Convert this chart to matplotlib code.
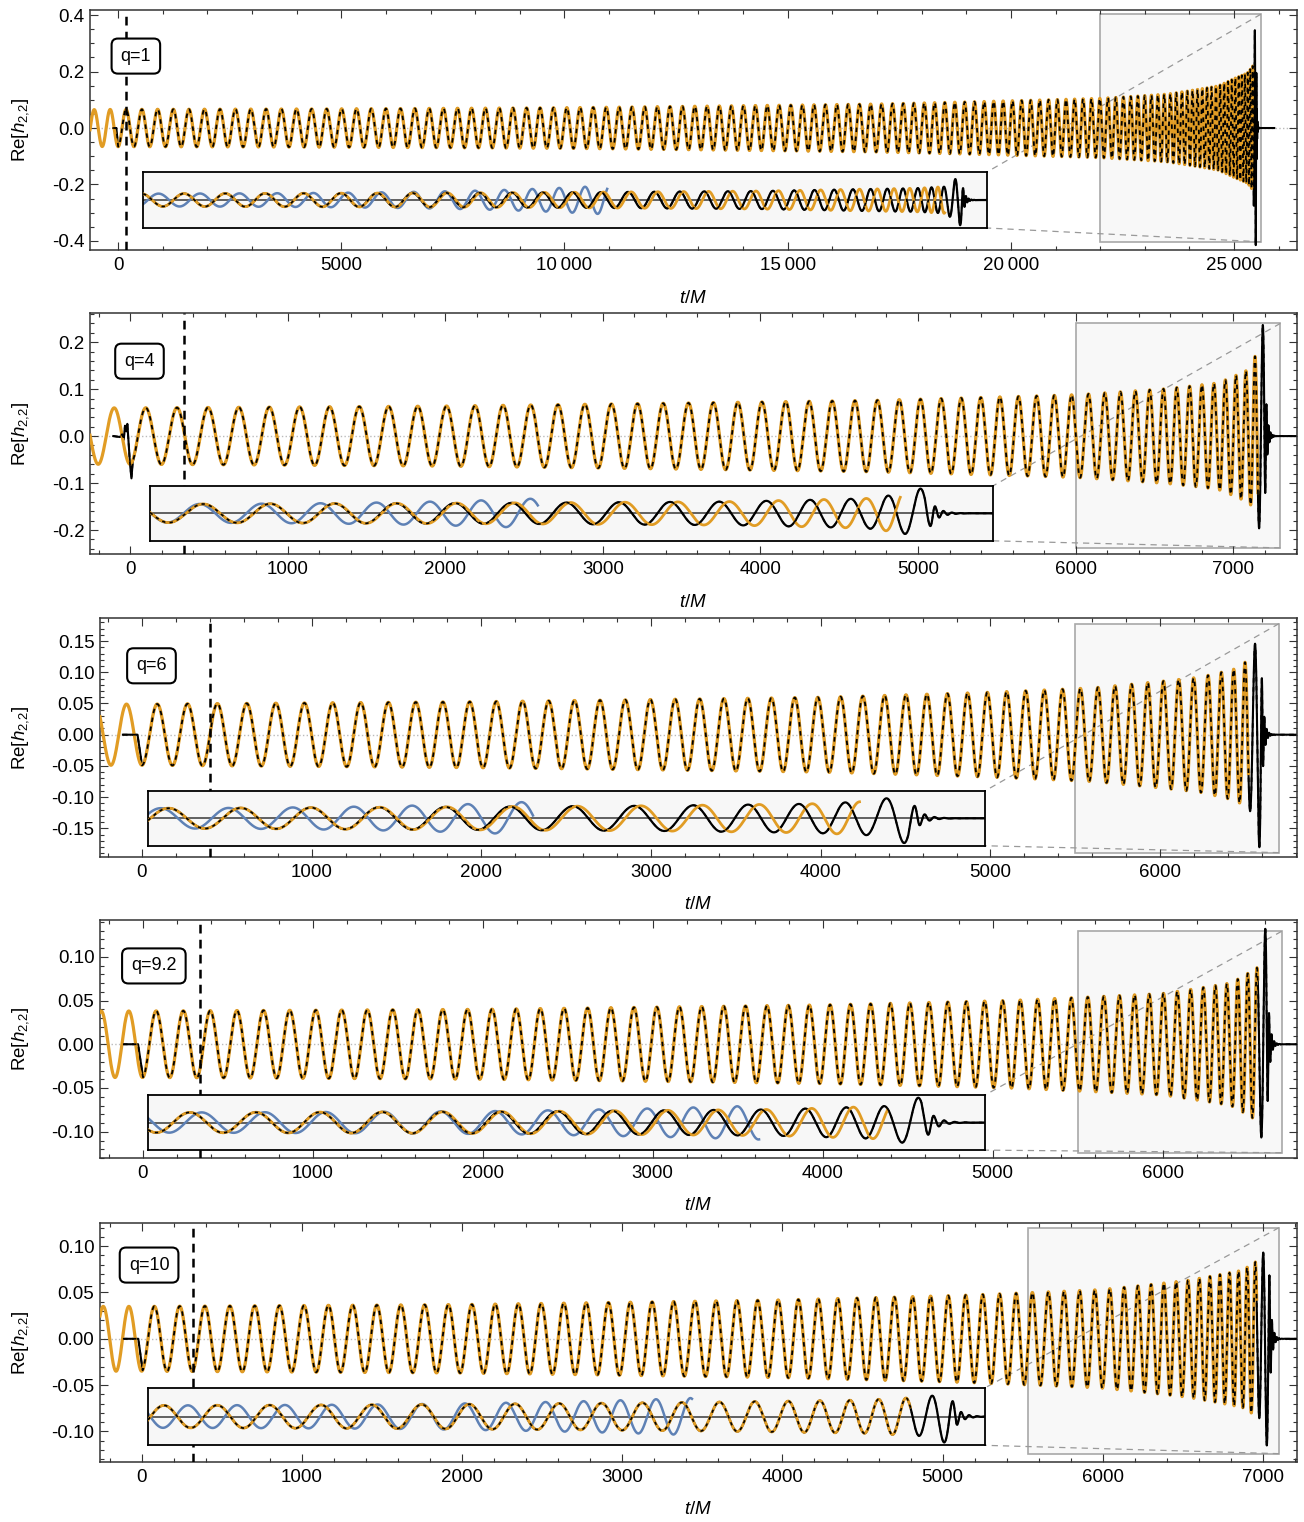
import numpy as np
import matplotlib.pyplot as plt
from matplotlib.patches import Rectangle
from matplotlib.ticker import MultipleLocator, FuncFormatter, FormatStrFormatter

plt.rcParams['font.family'] = ['Liberation Sans', 'DejaVu Sans']
plt.rcParams['mathtext.fontset'] = 'custom'
plt.rcParams['mathtext.rm'] = 'Liberation Sans'
plt.rcParams['mathtext.it'] = 'Liberation Sans:italic'

ORANGE = '#e19c24'
BLUE = '#5e81b5'
W, H = 1304, 1522

labels = ['q=1', 'q=4', 'q=6', 'q=9.2', 'q=10']
label_pos = [(0.038, 0.808), (0.041, 0.80), (0.043, 0.80), (0.045, 0.807), (0.041, 0.824)]

# axes frame in pixels: left, right, top, bottom
ax_px = [(90, 1297, 10, 250), (90, 1297, 313, 554), (100, 1297, 618, 857),
         (100, 1297, 920, 1158), (100, 1297, 1223, 1462)]
xlims = [(-630, 26410), (-254, 7405), (-247, 6806), (-250, 6791), (-260, 7212)]
ylims = [(-0.432, 0.418), (-0.251, 0.262), (-0.196, 0.187), (-0.130, 0.142), (-0.133, 0.125)]
x_major = [5000, 1000, 1000, 1000, 1000]
x_minor = [1000, 200, 200, 200, 200]
y_major = [0.2, 0.1, 0.05, 0.05, 0.05]
y_minor = [0.05, 0.02, 0.01, 0.01, 0.01]
y_fmt = ['%.1f', '%.1f', '%.2f', '%.2f', '%.2f']
t_vline = [180, 343, 400, 338, 320]

# GW period (t/M) read at several times along each waveform
period_t = [
    [-650, 0, 4800, 10000, 16800, 22000, 23500, 24630, 25000, 25300, 25450, 25490],
    [-260, 0, 1000, 2000, 3000, 4000, 4700, 5500, 6080, 6580, 6900, 7106, 7195],
    [-250, 0, 1000, 3000, 4000, 5000, 5600, 6230, 6450, 6560, 6590],
    [-260, 0, 1000, 2000, 3000, 4000, 5000, 5600, 6100, 6400, 6560, 6609],
    [-270, 0, 1000, 2000, 3000, 4000, 5127, 5982, 6526, 6870, 6995, 7032],
]
period_v = [
    [358, 356, 336, 298, 250, 185, 138, 95, 80, 62, 48, 38],
    [205, 200, 192, 182, 168, 152, 142, 120, 106, 85, 74, 59, 45],
    [185, 181, 167, 147, 135, 115, 103, 86, 69, 55, 45],
    [163, 161, 153, 144, 134, 122, 106, 95, 80, 65, 52, 44],
    [161, 159, 153, 147, 137, 127, 108, 94, 73, 54, 48, 42],
]
# amplitude of Re[h22] read at several times (last node = NR peak)
amp_t = [
    [-650, 0, 5000, 10000, 17000, 22000, 23500, 24640, 25000, 25300, 25420, 25460, 25490],
    [-260, 0, 2000, 4700, 6000, 6580, 6900, 7106, 7160, 7195],
    [-250, 0, 2000, 4000, 5000, 5600, 6230, 6450, 6540, 6590],
    [-260, 0, 2000, 4000, 5100, 6000, 6400, 6560, 6609],
    [-270, 0, 2000, 4000, 5127, 5982, 6526, 6870, 6995, 7032],
]
amp_v = [
    [0.065, 0.066, 0.068, 0.072, 0.085, 0.105, 0.120, 0.149, 0.175, 0.195, 0.22, 0.33, 0.43],
    [0.060, 0.060, 0.064, 0.076, 0.088, 0.101, 0.113, 0.143, 0.19, 0.25],
    [0.049, 0.049, 0.053, 0.060, 0.068, 0.075, 0.092, 0.106, 0.125, 0.19],
    [0.038, 0.038, 0.040, 0.045, 0.050, 0.058, 0.070, 0.088, 0.138],
    [0.035, 0.035, 0.037, 0.042, 0.047, 0.053, 0.063, 0.074, 0.088, 0.125],
]
tau_rd = [11, 12, 12.5, 13, 13]
period_rd = [11.5, 13, 14, 15, 15]
orange_end = [25420, 7157, 6520, 6560, 6960]
nr_end = [25900, 7405, 6806, 6791, 7212]

# start of NR data (junk radiation)
junk_t = [
    [-112, -40],
    [-106, -64, -50, -40, -32, -24, -17, -8, 0, 9, 17, 25, 35],
    [-112, -26],
    [-115, -26],
    [-117, -21],
]
junk_h = [
    [0.0, 0.0],
    [0.0, -0.002, 0.004, -0.008, 0.022, 0.010, 0.026, -0.02, -0.06, -0.090, -0.055, -0.045, -0.030],
    [0.0, 0.0],
    [0.0, 0.0],
    [0.0, 0.0],
]
nr_join = [0, 45, 0, 3, 6]

# zoom rectangle (t0, t1, ybottom, ytop) and inset box (t0, t1, y0, y1)
zoom_rect = [(22000, 25600, -0.403, 0.403), (6000, 7300, -0.238, 0.240),
             (5500, 6700, -0.189, 0.178), (5500, 6700, -0.124, 0.129),
             (5530, 7100, -0.124, 0.120)]
inset_box = [(560, 19462, -0.354, -0.156), (127, 5476, -0.223, -0.106),
             (35, 4968, -0.178, -0.090), (32, 4956, -0.121, -0.058),
             (39, 5264, -0.115, -0.053)]
# inset: dephasing (cycles) of the orange and blue models
orange_lag = [-0.6, -0.65, -0.55, -0.3, 0.0]
blue_end = [0.55, 0.46, 0.46, 0.73, 0.65]
blue_c0 = [-0.4, 0.0, 0.1, -0.2, -0.5]
blue_c1 = [0.0, 0.8, 0.5, 0.3, 1.0]
blue_c2 = [3.5, 1.5, 2.5, 1.0, 1.5]
blue_grow = [0.8, 0.4, 0.4, 0.3, 0.3]

dt = 0.5


def waveform(i):
    t = np.arange(xlims[i][0], xlims[i][1], dt)
    t_pk = amp_t[i][-1]
    tp = np.array(period_t[i] + [t_pk + 12, t_pk + 1e6])
    pv = np.array(period_v[i] + [period_rd[i], period_rd[i]], dtype=float)
    P = np.exp(np.interp(t, tp, np.log(pv)))
    ph = np.cumsum(2 * np.pi / P) * dt
    ph = ph - np.interp(0.0, t, ph) + np.pi
    A = np.exp(np.interp(t, amp_t[i], np.log(amp_v[i])))
    after = t > t_pk
    A[after] = amp_v[i][-1] * np.exp(-(t[after] - t_pk) / tau_rd[i])
    return t, A, ph


def tick_label(v, pos):
    v = int(round(v))
    if abs(v) >= 10000:
        return f'{v:,}'.replace(',', '\u2009')
    return f'{v}'


fig = plt.figure(figsize=(W / 100, H / 100), dpi=100)

for i in range(5):
    l, r, top, bot = ax_px[i]
    ax = fig.add_axes([l / W, 1 - bot / H, (r - l) / W, (bot - top) / H])
    t, A, ph = waveform(i)
    h = A * np.cos(ph)

    ax.axhline(0, color='#bbbbbb', ls=':', lw=1.0, zorder=1)

    rt0, rt1, rb, rtop = zoom_rect[i]
    ax.add_patch(Rectangle((rt0, rb), rt1 - rt0, rtop - rb, fc='#f8f8f8', ec='#a8a8a8',
                           lw=1.2, zorder=0.5))
    it0, it1, iy0, iy1 = inset_box[i]
    ax.plot([rt1, it1], [rtop, iy1], color='#999999', lw=0.9, ls=(0, (5, 4)), zorder=0.6)
    ax.plot([rt1, it1], [rb, iy0], color='#999999', lw=0.9, ls=(0, (5, 4)), zorder=0.6)

    # NR: junk start + waveform
    m = (t >= nr_join[i]) & (t <= nr_end[i])
    nr_t = np.concatenate([junk_t[i], t[m]])
    nr_h = np.concatenate([junk_h[i], h[m]])
    mo = t <= orange_end[i]

    ax.plot(nr_t, nr_h, color='black', lw=1.5, zorder=2)
    ax.plot(t[mo], h[mo], color=ORANGE, lw=2.3, zorder=3)
    ax.plot(nr_t, nr_h, color='black', lw=1.3, ls=(0, (2.5, 2.5)), zorder=4)
    ax.axvline(t_vline[i], color='black', lw=1.8, ls=(0, (3.5, 2.5)), zorder=5)

    ax.set_xlim(xlims[i])
    ax.set_ylim(ylims[i])
    ax.xaxis.set_major_locator(MultipleLocator(x_major[i]))
    ax.xaxis.set_minor_locator(MultipleLocator(x_minor[i]))
    ax.yaxis.set_major_locator(MultipleLocator(y_major[i]))
    ax.yaxis.set_minor_locator(MultipleLocator(y_minor[i]))
    ax.xaxis.set_major_formatter(FuncFormatter(tick_label))
    ax.yaxis.set_major_formatter(FormatStrFormatter(y_fmt[i]))
    ax.tick_params(which='both', direction='in', top=True, right=True, labelsize=13.5,
                   width=0.8, color='#333333')
    ax.tick_params(which='major', length=6)
    ax.tick_params(which='minor', length=3)
    ax.tick_params(axis='x', pad=5)
    ax.tick_params(axis='y', pad=4)
    for s in ax.spines.values():
        s.set_linewidth(1.1)
        s.set_color('#333333')

    ax.set_xlabel('$t/M$', fontsize=13.5)
    ax.xaxis.set_label_coords(0.5, -0.165)
    ax.set_ylabel('Re[$h_{2{,}2}$]', fontsize=13.5)
    ax.yaxis.set_label_coords((31 - l) / (r - l), 0.5)

    ax.text(label_pos[i][0], label_pos[i][1], labels[i], transform=ax.transAxes,
            ha='center', va='center', fontsize=13, zorder=8,
            bbox=dict(boxstyle='round,pad=0.5,rounding_size=0.35', fc='white',
                      ec='black', lw=1.5))

    # inset: zoom of the merger region
    ins = ax.inset_axes([it0, iy0, it1 - it0, iy1 - iy0], transform=ax.transData, zorder=6)
    ins.set_facecolor('#f7f7f7')
    ins.set_xticks([])
    ins.set_yticks([])
    for s in ins.spines.values():
        s.set_linewidth(1.3)
        s.set_color('black')
    mi = (nr_t >= rt0) & (nr_t <= rt1)
    ymax = np.abs(nr_h[mi]).max() / 0.9
    ins.set_xlim(rt0, rt1)
    ins.set_ylim(-ymax, ymax)
    ins.axhline(0, color='#555555', lw=1.3, zorder=1)

    u = (t - rt0) / (rt1 - rt0)
    sb = (u >= 0) & (u <= blue_end[i])
    dphi_b = 2 * np.pi * (blue_c0[i] + blue_c1[i] * u + blue_c2[i] * u ** 2)
    hb = A * (1 + blue_grow[i] * (u / blue_end[i]) ** 3) * np.cos(ph + dphi_b)
    so = (u >= 0) & (t <= orange_end[i])
    ho = A * np.cos(ph + 2 * np.pi * orange_lag[i] * u ** 3)

    ins.plot(t[sb], hb[sb], color=BLUE, lw=1.8, zorder=2)
    ins.plot(nr_t[mi], nr_h[mi], color='black', lw=1.6, zorder=3)
    ins.plot(t[so], ho[so], color=ORANGE, lw=2.0, zorder=4)
    ins.plot(nr_t[mi], nr_h[mi], color='black', lw=1.2, ls=(0, (2, 2.5)), zorder=5)

fig.savefig('out.png', dpi=100)
